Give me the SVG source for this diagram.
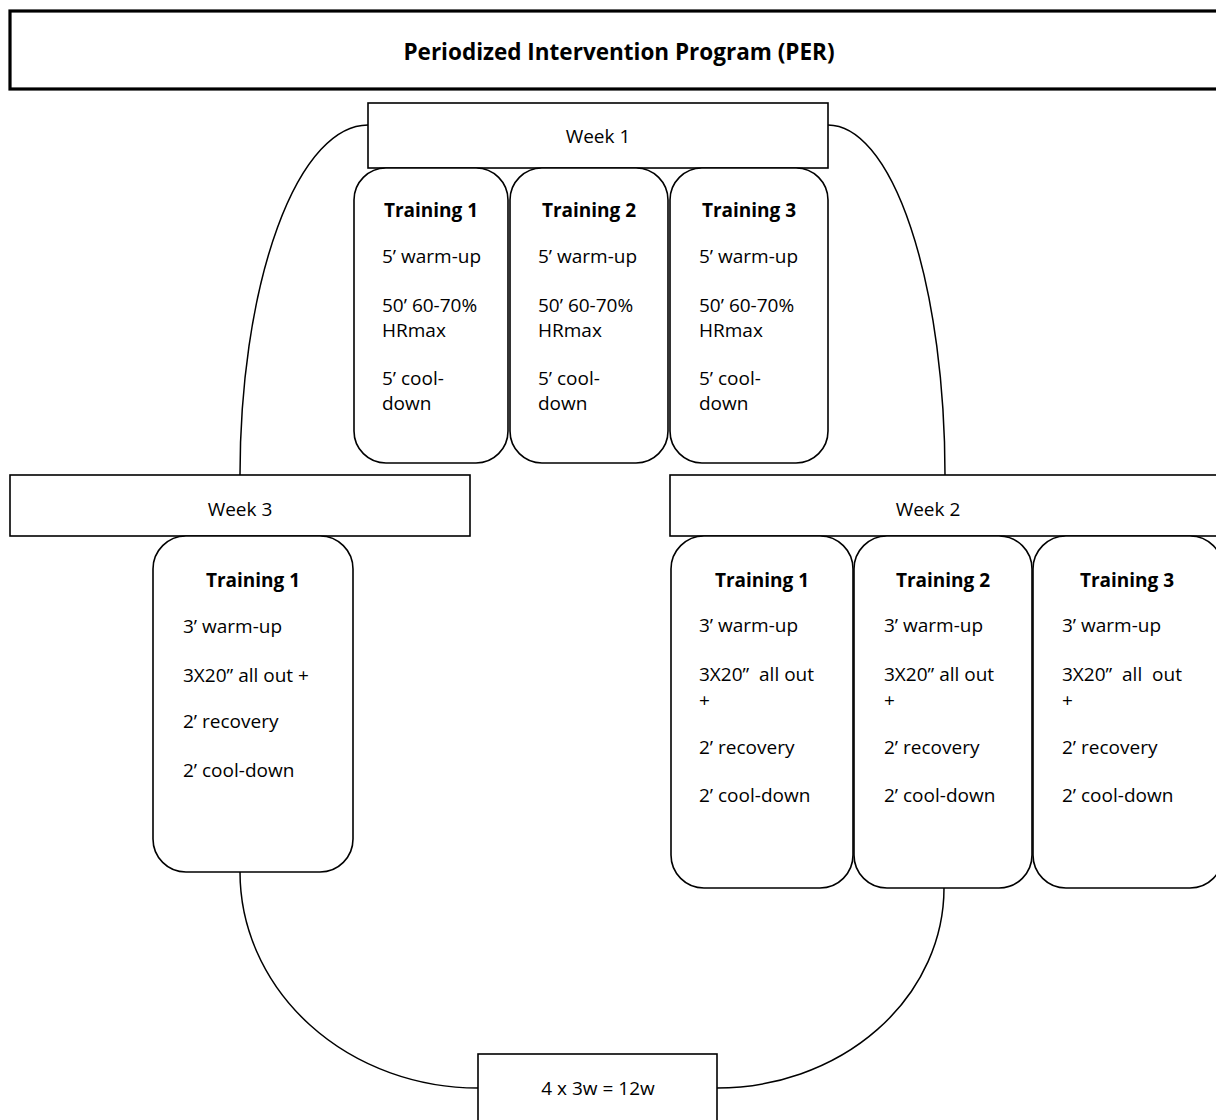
<svg xmlns="http://www.w3.org/2000/svg" width="1216" height="1120" viewBox="0 0 1216 1120">
<style>
  .box { fill: #fff; stroke: #000; stroke-width: 1.6; }
  .title { fill: #fff; stroke: #000; stroke-width: 3.2; }
  .conn { fill: none; stroke: #000; stroke-width: 1.5; }
  text { font-family: "Open Sans", "Liberation Sans", sans-serif; font-size: 19px; fill: #000; }
  .h { font-weight: bold; text-anchor: middle; }
  .c { text-anchor: middle; }
  .t { font-weight: bold; font-size: 22.5px; text-anchor: middle; }
</style>
<rect width="1216" height="1120" fill="#fff"/>
<g id="connectors">
  <path class="conn" d="M368,125 A128,350 0 0 0 240,475"/>
  <path class="conn" d="M828,125 A117,350 0 0 1 945,475"/>
  <path class="conn" d="M240,872 A238,216 0 0 0 478,1088"/>
  <path class="conn" d="M717,1088 A227,200 0 0 0 944,888"/>
</g>
<g id="title">
  <rect class="title" x="10" y="11" width="1220" height="78"/>
  <text class="t" x="619" y="60">Periodized Intervention Program (PER)</text>
</g>
<g id="week1">
  <rect class="box" x="368" y="103" width="460" height="65"/>
  <text class="c" x="598" y="143">Week 1</text>
</g>
<g id="w1t1">
  <rect class="box" x="354" y="168" width="154" height="295" rx="32"/>
  <text class="h" x="431" y="217">Training 1</text>
  <text x="382" y="263">5’ warm-up</text>
  <text x="382" y="312">50’ 60-70%</text>
  <text x="382" y="337">HRmax</text>
  <text x="382" y="385">5’ cool-</text>
  <text x="382" y="410">down</text>
</g>
<g id="w1t2">
  <rect class="box" x="510" y="168" width="158" height="295" rx="32"/>
  <text class="h" x="589" y="217">Training 2</text>
  <text x="538" y="263">5’ warm-up</text>
  <text x="538" y="312">50’ 60-70%</text>
  <text x="538" y="337">HRmax</text>
  <text x="538" y="385">5’ cool-</text>
  <text x="538" y="410">down</text>
</g>
<g id="w1t3">
  <rect class="box" x="670" y="168" width="158" height="295" rx="32"/>
  <text class="h" x="749" y="217">Training 3</text>
  <text x="699" y="263">5’ warm-up</text>
  <text x="699" y="312">50’ 60-70%</text>
  <text x="699" y="337">HRmax</text>
  <text x="699" y="385">5’ cool-</text>
  <text x="699" y="410">down</text>
</g>
<g id="week3">
  <rect class="box" x="10" y="475" width="460" height="61"/>
  <text class="c" x="240" y="516">Week 3</text>
</g>
<g id="w3t1">
  <rect class="box" x="153" y="536" width="200" height="336" rx="33"/>
  <text class="h" x="253" y="587">Training 1</text>
  <text x="183" y="633">3’ warm-up</text>
  <text x="183" y="682">3X20” all out +</text>
  <text x="183" y="728">2’ recovery</text>
  <text x="183" y="777">2’ cool-down</text>
</g>
<g id="week2">
  <rect class="box" x="670" y="475" width="560" height="61"/>
  <text class="c" x="928" y="516">Week 2</text>
</g>
<g id="w2t1">
  <rect class="box" x="671" y="536" width="182" height="352" rx="33"/>
  <text class="h" x="762" y="587">Training 1</text>
  <text x="699" y="632">3’ warm-up</text>
  <text x="699" y="681" xml:space="preserve">3X20”  all out</text>
  <text x="699" y="707">+</text>
  <text x="699" y="754">2’ recovery</text>
  <text x="699" y="802">2’ cool-down</text>
</g>
<g id="w2t2">
  <rect class="box" x="854" y="536" width="178" height="352" rx="33"/>
  <text class="h" x="943" y="587">Training 2</text>
  <text x="884" y="632">3’ warm-up</text>
  <text x="884" y="681">3X20” all out</text>
  <text x="884" y="707">+</text>
  <text x="884" y="754">2’ recovery</text>
  <text x="884" y="802">2’ cool-down</text>
</g>
<g id="w2t3">
  <rect class="box" x="1033" y="536" width="190" height="352" rx="33"/>
  <text class="h" x="1127" y="587">Training 3</text>
  <text x="1062" y="632">3’ warm-up</text>
  <text x="1062" y="681" xml:space="preserve">3X20”  all  out</text>
  <text x="1062" y="707">+</text>
  <text x="1062" y="754">2’ recovery</text>
  <text x="1062" y="802">2’ cool-down</text>
</g>
<g id="total">
  <rect class="box" x="478" y="1054" width="239" height="80"/>
  <text class="c" x="598" y="1095">4 x 3w = 12w</text>
</g>
</svg>
